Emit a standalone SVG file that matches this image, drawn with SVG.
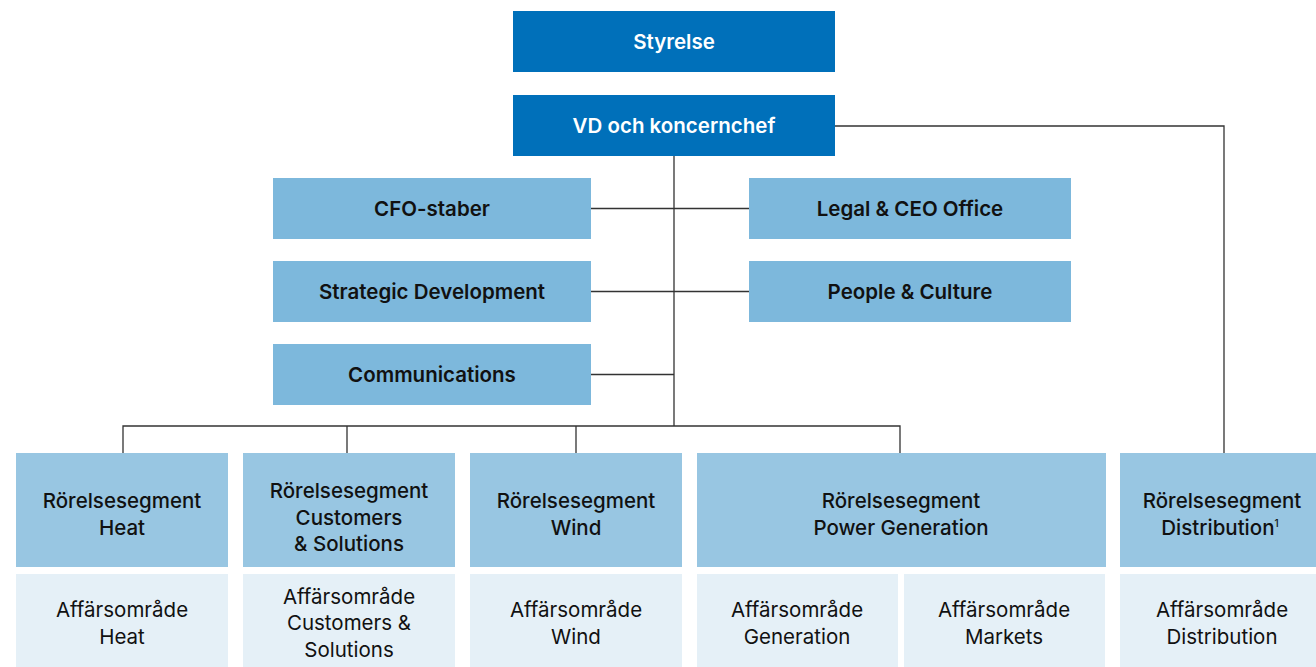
<svg xmlns="http://www.w3.org/2000/svg" width="1316" height="667" viewBox="0 0 1316 667">
<style>
.top{fill:#0070BA}
.staff{fill:#7DB8DC}
.seg{fill:#98C6E2}
.area{fill:#E5F0F7}
text{font-family:Inter,"Liberation Sans",sans-serif;font-size:20.5px;text-anchor:middle}
.tw{fill:#fff;font-weight:600}
.ts{fill:#111;font-weight:600}
.tg{fill:#111;font-weight:500}
.ta{fill:#111;font-weight:400}
.conn{stroke:#333;stroke-width:1.3;fill:none}
</style>
<rect width="1316" height="667" fill="#fff"/>
<g id="connectors">
<path class="conn" d="M674 156V426M591 208.5H749M591 291.5H749M591 374.5H674M123 453V426H900V453M347 426V453M576 426V453M835 126H1224V453"/>
</g>
<g id="styrelse"><rect class="top" x="513" y="11" width="322" height="61"/><text class="tw" x="674" y="49">Styrelse</text></g>
<g id="vd"><rect class="top" x="513" y="95" width="322" height="61"/><text class="tw" x="674" y="133">VD och koncernchef</text></g>
<g id="cfo"><rect class="staff" x="273" y="178" width="318" height="61"/><text class="ts" x="432" y="216">CFO-staber</text></g>
<g id="legal"><rect class="staff" x="749" y="178" width="322" height="61"/><text class="ts" x="910" y="216">Legal &amp; CEO Office</text></g>
<g id="strategic"><rect class="staff" x="273" y="261" width="318" height="61"/><text class="ts" x="432" y="299">Strategic Development</text></g>
<g id="people"><rect class="staff" x="749" y="261" width="322" height="61"/><text class="ts" x="910" y="299">People &amp; Culture</text></g>
<g id="communications"><rect class="staff" x="273" y="344" width="318" height="61"/><text class="ts" x="432" y="382">Communications</text></g>
<g id="seg-heat"><rect class="seg" x="16" y="453" width="212" height="114"/><text class="tg" x="122" y="508">Rörelsesegment</text><text class="tg" x="122" y="535">Heat</text></g>
<g id="seg-cs"><rect class="seg" x="243" y="453" width="212" height="114"/><text class="tg" x="349" y="498">Rörelsesegment</text><text class="tg" x="349" y="525">Customers</text><text class="tg" x="349" y="551">&amp; Solutions</text></g>
<g id="seg-wind"><rect class="seg" x="470" y="453" width="212" height="114"/><text class="tg" x="576" y="508">Rörelsesegment</text><text class="tg" x="576" y="535">Wind</text></g>
<g id="seg-power"><rect class="seg" x="697" y="453" width="409" height="114"/><text class="tg" x="901" y="508">Rörelsesegment</text><text class="tg" x="901" y="535">Power Generation</text></g>
<g id="seg-dist"><rect class="seg" x="1120" y="453" width="196" height="114"/><text class="tg" x="1222" y="508">Rörelsesegment</text><text class="tg" x="1220" y="535">Distribution<tspan dy="-8" font-size="10">1</tspan></text></g>
<g id="area-heat"><rect class="area" x="16" y="574" width="212" height="93"/><text class="ta" x="122" y="617">Affärsområde</text><text class="ta" x="122" y="644">Heat</text></g>
<g id="area-cs"><rect class="area" x="243" y="574" width="212" height="93"/><text class="ta" x="349" y="604">Affärsområde</text><text class="ta" x="349" y="630">Customers &amp;</text><text class="ta" x="349" y="657">Solutions</text></g>
<g id="area-wind"><rect class="area" x="470" y="574" width="212" height="93"/><text class="ta" x="576" y="617">Affärsområde</text><text class="ta" x="576" y="644">Wind</text></g>
<g id="area-gen"><rect class="area" x="697" y="574" width="201" height="93"/><text class="ta" x="797" y="617">Affärsområde</text><text class="ta" x="797" y="644">Generation</text></g>
<g id="area-markets"><rect class="area" x="904" y="574" width="201" height="93"/><text class="ta" x="1004" y="617">Affärsområde</text><text class="ta" x="1004" y="644">Markets</text></g>
<g id="area-dist"><rect class="area" x="1120" y="574" width="196" height="93"/><text class="ta" x="1222" y="617">Affärsområde</text><text class="ta" x="1222" y="644">Distribution</text></g>
</svg>
